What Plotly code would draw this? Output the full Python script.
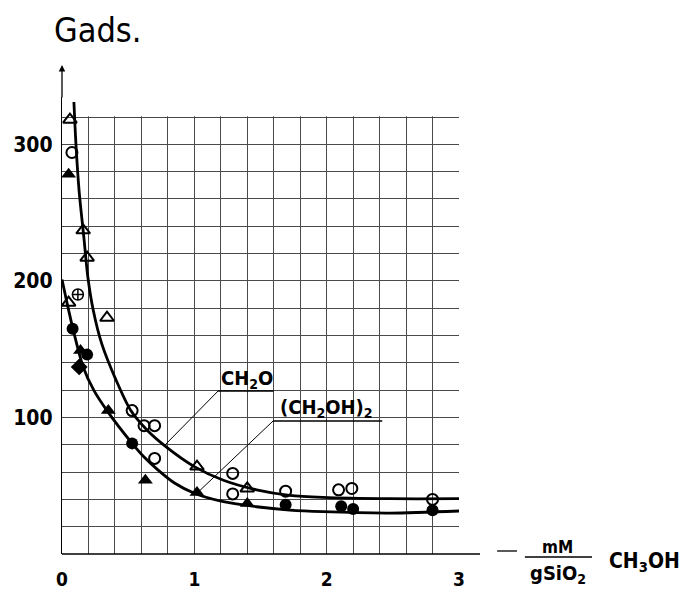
import plotly.graph_objects as go

# ---- data ----
# fitted curves
upper_x = [0.09, 0.106, 0.13, 0.165, 0.195, 0.235, 0.30, 0.41, 0.52, 0.64, 0.78, 1.0, 1.22, 1.47, 1.72, 1.97, 2.48, 3.0]
upper_y = [331, 299, 265, 232, 203, 179, 154, 127, 105, 91, 79, 64, 54, 47, 43, 41.5, 40.5, 40.5]
lower_x = [0.0, 0.04, 0.085, 0.16, 0.24, 0.34, 0.53, 0.62, 0.72, 0.85, 1.0, 1.22, 1.47, 1.72, 1.97, 2.48, 3.0]
lower_y = [201, 183, 164, 137, 120, 105, 81, 71, 62, 52, 44.5, 38.3, 34.6, 32.2, 31, 30, 31.5]

# experimental points
open_tri_x = [0.06, 0.16, 0.19, 0.05, 0.34, 1.02, 1.40]
open_tri_y = [318, 237, 217, 184, 173, 64, 48]
open_circ_x = [0.075, 0.53, 0.62, 0.70, 0.70, 1.29, 1.29, 1.69, 2.09, 2.19, 2.80]
open_circ_y = [294, 105, 94, 94, 70, 59, 44, 46, 47, 48, 40]
fill_circ_x = [0.08, 0.19, 0.53, 1.69, 2.11, 2.20, 2.80]
fill_circ_y = [165, 146, 81, 36, 35, 33, 32]
fill_tri_x = [0.05, 0.14, 0.35, 0.63, 1.02, 1.40]
fill_tri_y = [278, 149, 105, 54, 45, 37]
cross_circ_x = [0.12]
cross_circ_y = [190]
fill_diam_x = [0.13]
fill_diam_y = [137]

x_ticks = [0, 1, 2, 3]
x_ticktext = ["0", "1", "2", "3"]
y_ticks = [100, 200, 300]
y_ticktext = ["100", "200", "300"]

X_MAX = 3
GRID_TOP = 320
FONT = "DejaVu Sans Condensed, Liberation Sans Narrow, DejaVu Sans, sans-serif"
BFONT = "DejaVu Sans Condensed, DejaVu Sans, sans-serif"
GRID = "#4a4a4a"

# plot area is 457 px tall; the grid occupies the lower 437 px
GRID_FRAC = 437 / 457
Y_TOP = GRID_TOP / GRID_FRAC

fig = go.Figure()

def pts(x, y, sym, size, lw=1.8):
    fig.add_trace(go.Scatter(x=x, y=y, mode="markers",
                             marker=dict(symbol=sym, size=size, color="black",
                                         line=dict(color="black", width=lw)),
                             cliponaxis=False))

pts(open_tri_x, open_tri_y, "triangle-up-open", 12, 2)
pts(open_circ_x, open_circ_y, "circle-open", 11, 2)
pts(fill_circ_x, fill_circ_y, "circle", 12, 0)
pts(fill_tri_x, fill_tri_y, "triangle-up", 13, 0)
pts(cross_circ_x, cross_circ_y, "circle-cross-open", 11, 1.5)
pts(fill_diam_x, fill_diam_y, "diamond", 13, 0)

fig.add_trace(go.Scatter(x=upper_x, y=upper_y, mode="lines",
                         line=dict(color="black", width=2.8, shape="spline", smoothing=0.8)))
fig.add_trace(go.Scatter(x=lower_x, y=lower_y, mode="lines",
                         line=dict(color="black", width=2.8, shape="spline", smoothing=0.8)))

def py(s):
    """screen pixel row -> paper y"""
    return (554 - s) / 457

shapes = [
    # blank strip above the grid's top line (hides grid stubs; curves are drawn over it)
    dict(type="rect", xref="x", yref="y", x0=0, x1=X_MAX + 0.1, y0=GRID_TOP + 0.5, y1=Y_TOP + 5,
         fillcolor="white", line=dict(width=0), layer="between"),
    # x axis line (extends past the grid)
    dict(type="line", xref="paper", yref="paper", x0=0, x1=1.053, y0=0, y1=0,
         line=dict(color="black", width=1.3)),
    # dash before the axis label
    dict(type="line", xref="paper", yref="paper", x0=1.096, x1=1.146, y0=py(551), y1=py(551),
         line=dict(color="black", width=1.3)),
    # fraction bar
    dict(type="line", xref="paper", yref="paper", x0=1.166, x1=1.335, y0=py(557), y1=py(557),
         line=dict(color="black", width=1.5)),
    # CH2O label underline + leader
    dict(type="line", xref="x", yref="y", x0=1.18, x1=1.60, y0=119.4, y1=119.4,
         line=dict(color="black", width=1.6)),
    dict(type="line", xref="x", yref="y", x0=1.18, x1=0.78, y0=119.4, y1=80,
         line=dict(color="black", width=1)),
    # (CH2OH)2 label underline + leader
    dict(type="line", xref="x", yref="y", x0=1.595, x1=2.42, y0=97.4, y1=97.4,
         line=dict(color="black", width=1.6)),
    dict(type="line", xref="x", yref="y", x0=1.595, x1=1.02, y0=97.4, y1=44.5,
         line=dict(color="black", width=1)),
]

annotations = [
    dict(text="Gads.", xref="paper", yref="paper", x=-0.024, y=py(30), xanchor="left",
         yanchor="middle", showarrow=False, font=dict(family=FONT, size=34, color="black")),
    # y axis arrow
    dict(text="", xref="x", yref="paper", x=0, y=py(65), ax=0, ay=34, axref="pixel", ayref="pixel",
         showarrow=True, arrowhead=2, arrowsize=1, arrowwidth=1.3, arrowcolor="black"),
    dict(text="<b>CH<sub>2</sub>O</b>", xref="x", yref="y", x=1.40, y=128, showarrow=False,
         font=dict(family=BFONT, size=20, color="black")),
    dict(text="<b>(CH<sub>2</sub>OH)<sub>2</sub></b>", xref="x", yref="y", x=2.0, y=107,
         showarrow=False, font=dict(family=BFONT, size=20, color="black")),
    dict(text="<b>mM</b>", xref="paper", yref="paper", x=1.247, y=py(547), xanchor="center",
         yanchor="middle", showarrow=False, font=dict(family=FONT, size=17, color="black")),
    dict(text="<b>gSiO<sub>2</sub></b>", xref="paper", yref="paper", x=1.249, y=py(574),
         xanchor="center", yanchor="middle", showarrow=False,
         font=dict(family=FONT, size=20, color="black")),
    dict(text="<b>CH<sub>3</sub>OH</b>", xref="paper", yref="paper", x=1.373, y=py(562),
         xanchor="left", yanchor="middle", showarrow=False,
         font=dict(family=FONT, size=21, color="black")),
]

fig.update_layout(
    width=698, height=592,
    margin=dict(l=54, r=247, t=89, b=46, autoexpand=False),
    paper_bgcolor="white", plot_bgcolor="white",
    showlegend=False,
    shapes=shapes, annotations=annotations,
    xaxis=dict(range=[0, X_MAX], tickvals=x_ticks, ticktext=["<b>%s</b>" % t for t in x_ticktext],
               showgrid=True, gridcolor=GRID, gridwidth=1, zeroline=False, showline=False,
               ticks="", ticklabelstandoff=12, automargin=False,
               tickfont=dict(family=BFONT, size=19, color="black"),
               minor=dict(tick0=0, dtick=0.2, showgrid=True, gridcolor=GRID, gridwidth=1)),
    yaxis=dict(range=[0, Y_TOP],
               tickvals=y_ticks, ticktext=["<b>%s</b>" % t for t in y_ticktext],
               showgrid=True, gridcolor=GRID, gridwidth=1, zeroline=False,
               showline=True, linecolor="black", linewidth=1.3,
               ticks="", ticklabelstandoff=4, automargin=False,
               tickfont=dict(family=BFONT, size=21, color="black"),
               minor=dict(tick0=0, dtick=20, showgrid=True, gridcolor=GRID, gridwidth=1)),
)

fig.write_html("out.html")
